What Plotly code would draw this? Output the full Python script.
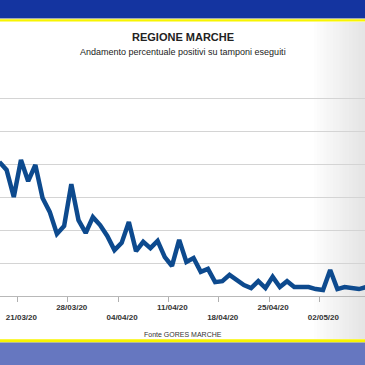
import plotly.graph_objects as go
import pandas as pd

# ---- data ----
start_date = "2020-03-18"
positivi_pct = [
    40.6, 38.2, 30.0, 41.2, 34.8, 39.7, 29.7, 25.5, 18.8, 21.2,   # 18/03 - 27/03
    33.9, 23.0, 19.1, 23.9, 21.5, 18.2, 13.9, 16.1, 22.4, 13.6,   # 28/03 - 06/04
    16.4, 14.5, 16.7, 11.8, 9.1, 17.0, 10.3, 11.5, 7.3, 8.2,      # 07/04 - 16/04
    4.2, 4.5, 6.4, 4.8, 3.3, 2.4, 4.5, 2.4, 5.8, 2.7,             # 17/04 - 26/04
    4.5, 2.7, 2.7, 2.7, 2.1, 1.8, 7.9, 2.1, 2.7, 2.4,             # 27/04 - 06/05
    2.1, 2.7,                                                      # 07/05 - 08/05
]
tick_dates = ["2020-03-21", "2020-03-28", "2020-04-04", "2020-04-11",
              "2020-04-18", "2020-04-25", "2020-05-02", "2020-05-09"]
tick_labels = ["21/03/20", "28/03/20", "04/04/20", "11/04/20",
               "18/04/20", "25/04/20", "02/05/20", "09/05/20"]
title_text = "REGIONE MARCHE"
subtitle_text = "Andamento percentuale positivi su tamponi eseguiti"
source_text = "Fonte GORES MARCHE"

dates = pd.date_range(start_date, periods=len(positivi_pct), freq="D")
tick_pos = [pd.Timestamp(d) - pd.Timedelta(hours=12) for d in tick_dates]
tick_text = [lab if i % 2 == 1 else "<br>" + lab for i, lab in enumerate(tick_labels)]

W, H = 365, 365
M_T, M_B = 65, 69
PLOT_H = H - M_T - M_B


def py(y_px):
    """pixel row -> paper y"""
    return (H - M_B - y_px) / PLOT_H


fig = go.Figure()
fig.add_trace(go.Scatter(
    x=dates, y=positivi_pct, mode="lines",
    line=dict(color="#0d4a8e", width=4.5),
    hoverinfo="skip", showlegend=False,
))

shapes = []
# right-side grey gradient
n = 16
for i in range(n):
    x0 = 0.86 + i * (0.14 / n)
    g = int(255 - (i + 1) * (26 / n))
    shapes.append(dict(type="rect", xref="paper", yref="paper",
                       x0=x0, x1=x0 + 0.14 / n + 0.003, y0=py(339), y1=py(22),
                       fillcolor=f"rgb({g},{g},{g})", line_width=0, layer="below"))
# top band
shapes.append(dict(type="rect", xref="paper", yref="paper", x0=-0.01, x1=1.01,
                   y0=py(18.5), y1=py(-5), fillcolor="#1434a0", line_width=0, layer="above"))
shapes.append(dict(type="rect", xref="paper", yref="paper", x0=-0.01, x1=1.01,
                   y0=py(19.3), y1=py(18.5), fillcolor="#b8b8a0", line_width=0, layer="above"))
shapes.append(dict(type="rect", xref="paper", yref="paper", x0=-0.01, x1=1.01,
                   y0=py(21.5), y1=py(19.3), fillcolor="#f8f400", line_width=0, layer="above"))
# bottom band
shapes.append(dict(type="rect", xref="paper", yref="paper", x0=-0.01, x1=1.01,
                   y0=py(342.5), y1=py(339.3), fillcolor="#f8f400", line_width=0, layer="above"))
shapes.append(dict(type="rect", xref="paper", yref="paper", x0=-0.01, x1=1.01,
                   y0=py(370), y1=py(342.5), fillcolor="#6677c0", line_width=0, layer="above"))

fig.update_layout(
    width=W, height=H,
    margin=dict(l=0, r=0, t=M_T, b=M_B, pad=0),
    paper_bgcolor="white", plot_bgcolor="rgba(0,0,0,0)",
    font=dict(family="Liberation Sans, Arial, sans-serif", color="#222"),
    shapes=shapes,
    xaxis=dict(
        type="date",
        range=["2020-03-18 02:00", "2020-05-07 20:10"],
        tickvals=tick_pos, ticktext=tick_text,
        ticklabelshift=4, ticklabelstandoff=-2,
        ticks="outside", ticklen=5, tickcolor="#b0b0b0",
        showline=True, linecolor="#b8b8b8", linewidth=1,
        showgrid=False, zeroline=False,
        tickfont=dict(size=8, color="#333", family="Liberation Sans, Arial, sans-serif", weight="bold"),
    ),
    yaxis=dict(
        range=[0, 70], dtick=10, showticklabels=False,
        showgrid=True, gridcolor="#d4d4d4", gridwidth=1,
        zeroline=False, showline=False, ticks="",
    ),
    annotations=[
        dict(text="<b>" + title_text + "</b>", xref="paper", yref="paper",
             x=0.5, y=py(37), xanchor="center", yanchor="middle", showarrow=False,
             font=dict(size=11, color="#222")),
        dict(text=subtitle_text, xref="paper", yref="paper",
             x=0.5, y=py(52), xanchor="center", yanchor="middle", showarrow=False,
             font=dict(size=9, color="#222")),
        dict(text=source_text, xref="paper", yref="paper",
             x=0.5, y=py(334.5), xanchor="center", yanchor="middle", showarrow=False,
             font=dict(size=7, color="#333")),
    ],
)

fig.write_html("out.html", config={"displayModeBar": False},
               post_script="document.body.style.margin='0';document.body.style.overflow='hidden';")
